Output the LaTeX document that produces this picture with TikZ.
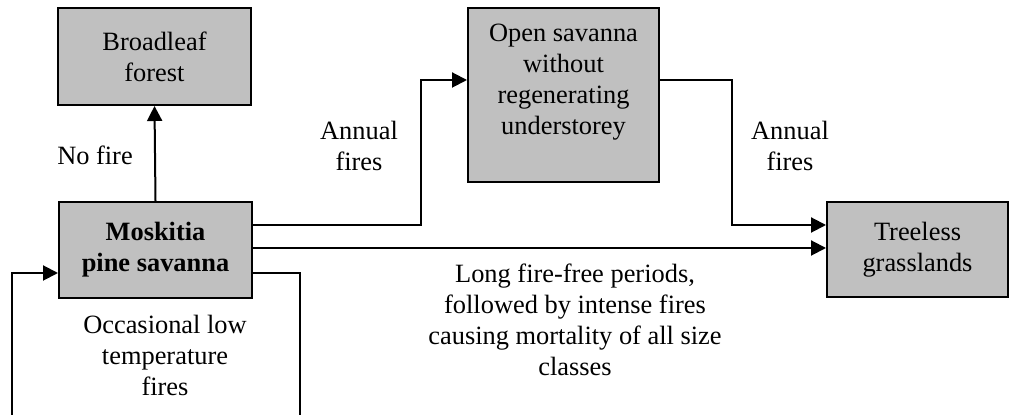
\documentclass[tikz,border=0pt]{standalone}
\usepackage{fontspec}
\setmainfont{Liberation Serif}
\usetikzlibrary{arrows.meta}
\definecolor{boxgray}{RGB}{192,192,192}
\tikzset{
  statebox/.style={draw, line width=1pt, fill=boxgray, align=center, inner sep=2pt},
  flow/.style={line width=1pt, -{Triangle[length=7.5pt,width=7.5pt]}},
  note/.style={align=center, inner sep=1pt},
}
\begin{document}
\begin{tikzpicture}[x=0.5pt, y=-0.5pt, font=\fontsize{13.2}{15.5}\selectfont]
    \useasboundingbox (0,0) rectangle (1010,415);
    \clip (0,0) rectangle (1010,415);
    % states
    \node[statebox, minimum width=96.5pt, minimum height=48.5pt] (broad) at (154.5,56.5) {Broadleaf\\forest};
    \node[statebox, minimum width=96.5pt, minimum height=48pt, font=\fontsize{13.2}{15.5}\selectfont\bfseries] (mosk) at (155.5,250) {Moskitia\\pine savanna};
    \node[statebox, minimum width=95.5pt, minimum height=87pt] (open) at (563.5,95) {Open savanna\\without\\regenerating\\understorey\\\mbox{}};
    \node[statebox, minimum width=90.5pt, minimum height=47.5pt] (tree) at (917.5,249.5) {Treeless\\grasslands};
    % labels
    \node[note] (nofire) at (95,155) {No fire};
    \node[note] (annual1) at (359,146) {Annual\\fires};
    \node[note] (annual2) at (790,146) {Annual\\fires};
    \node[note] (longfree) at (575,320) {Long fire-free periods,\\followed by intense fires\\causing mortality of all size\\classes};
    \node[note] (lowtemp) at (165,355) {Occasional low\\temperature\\fires};
    % transitions
    \draw[flow] (mosk.north) -- (broad.south);
    \draw[flow] ([yshift=12.5pt]mosk.east) -- ++(84pt,0) |- ([yshift=7.5pt]open.west);
    \draw[flow] ([yshift=7.5pt]open.east) -- ++(36pt,0) |- ([yshift=12.25pt]tree.west);
    \draw[flow] ([yshift=1pt]mosk.east) -- ([yshift=1pt]mosk.east -| tree.west);
    \coordinate (loopse) at (300,440);
    \coordinate (loopsw) at (12,440);
    \draw[flow] ([yshift=-11.5pt]mosk.east) -| (loopse) -- (loopsw) |- ([yshift=-11.5pt]mosk.west);
\end{tikzpicture}
\end{document}
